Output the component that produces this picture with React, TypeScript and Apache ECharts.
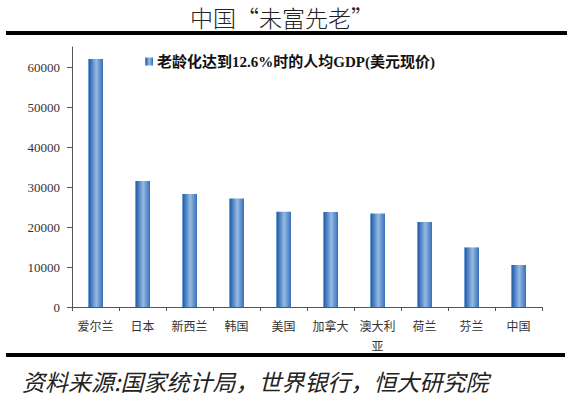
import React, { useEffect, useRef } from "react";
import * as echarts from "echarts";

const titleText = "中国“未富先老”";
const seriesName = "老龄化达到12.6%时的人均GDP(美元现价)";
const sourceText = "资料来源:国家统计局，世界银行，恒大研究院";
const countries = ["爱尔兰", "日本", "新西兰", "韩国", "美国", "加拿大", "澳大利亚", "荷兰", "芬兰", "中国"];
const gdpValues = [62000, 31500, 28250, 27100, 23800, 23750, 23400, 21250, 14900, 10500];
const yTicks = [0, 10000, 20000, 30000, 40000, 50000, 60000];

export default function App() {
  const ref = useRef<HTMLDivElement>(null);
  useEffect(() => {
    document.body.style.margin = "0";
    const chart = echarts.init(ref.current!, null, { renderer: "svg" });
    const barColor = new echarts.graphic.LinearGradient(0, 0, 1, 0, [
      { offset: 0, color: "#8cc0ea" },
      { offset: 0.1, color: "#2a64ad" },
      { offset: 0.55, color: "#95bae4" },
      { offset: 1, color: "#386fb7" },
    ]);
    chart.setOption({
      animation: false,
      backgroundColor: "#ffffff",
      legend: {
        left: 140,
        top: 49,
        itemWidth: 8,
        itemHeight: 8,
        itemGap: 4,
        icon: "rect",
        textStyle: {
          fontFamily: "Liberation Serif, Noto Sans CJK SC",
          fontWeight: "bold",
          fontSize: 15,
          color: "#111",
          padding: [0, 0, 0, -1],
        },
        data: [seriesName],
      },
      grid: { left: 72, right: 32, top: 47, bottom: 89 },
      xAxis: {
        type: "category",
        data: countries,
        axisLine: { lineStyle: { color: "#555", width: 1 } },
        axisTick: { show: true, length: 4, lineStyle: { color: "#555" } },
        axisLabel: {
          margin: 8,
          interval: 0,
          fontFamily: "Noto Sans CJK SC",
          fontSize: 12,
          color: "#333",
          lineHeight: 20,
          formatter: (v: string) => (v.length > 3 ? v.slice(0, 3) + "\n" + v.slice(3) : v),
        },
      },
      yAxis: {
        type: "value",
        min: 0,
        max: 65000,
        interval: 10000,
        splitLine: { show: false },
        axisLine: { show: true, lineStyle: { color: "#555", width: 1 } },
        axisTick: { show: true, length: 5, lineStyle: { color: "#555" }, customValues: yTicks },
        axisLabel: {
          margin: 12,
          customValues: yTicks,
          fontFamily: "Liberation Serif",
          fontSize: 13,
          color: "#333",
          formatter: (v: number) => String(v),
        },
      },
      series: [
        {
          name: seriesName,
          type: "bar",
          data: gdpValues,
          barWidth: 15,
          itemStyle: { color: barColor },
        },
      ],
      graphic: [
        {
          type: "text",
          x: 282,
          y: 17,
          style: {
            text: titleText,
            align: "center",
            verticalAlign: "middle",
            fontFamily: "Noto Sans CJK SC",
            fontWeight: 300,
            fontSize: 23,
            fill: "#222",
          },
        },
        { type: "rect", shape: { x: 6, y: 31, width: 561, height: 4 }, style: { fill: "#000" } },
        { type: "rect", shape: { x: 6, y: 353, width: 559, height: 4 }, style: { fill: "#000" } },
        {
          type: "text",
          left: 22,
          top: 369,
          style: {
            text: sourceText,
            fontFamily: "Noto Sans CJK SC",
            fontStyle: "italic",
            fontSize: 23,
            fill: "#222",
          },
        },
      ],
    });
    return () => chart.dispose();
  }, []);
  return <div ref={ref} style={{ width: 574, height: 396 }} />;
}
